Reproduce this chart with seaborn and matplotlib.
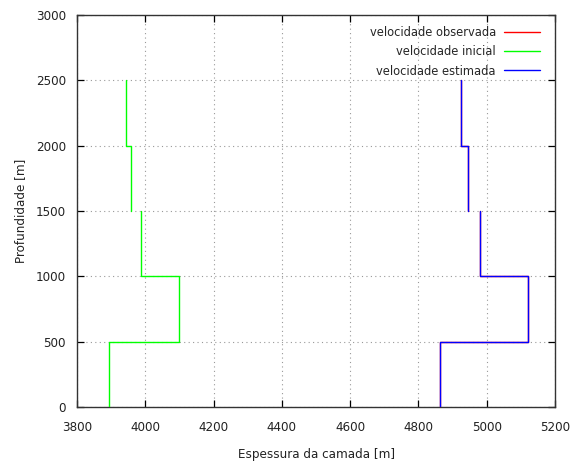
import matplotlib
matplotlib.use("Agg")
import matplotlib.pyplot as plt
import seaborn as sns

# Layer boundaries (depth, m) and velocity per layer
depths = [0, 500, 1000, 1500, 2000, 2500]
v_observada = [4864, 5122, 4980, 4944, 4926]
v_inicial = [3893, 4100, 3986, 3958, 3943]
v_estimada = [4862, 5122, 4980, 4944, 4926]

# Consecutive layers joined into one step path (the profile is split at 1500 m)
layer_groups = [[0, 1, 2], [3, 4]]

x_ticks = [3800, 4000, 4200, 4400, 4600, 4800, 5000, 5200]
y_ticks = [0, 500, 1000, 1500, 2000, 2500, 3000]

series = [
    ("velocidade observada", v_observada, "#ff0000"),
    ("velocidade inicial", v_inicial, "#00ff00"),
    ("velocidade estimada", v_estimada, "#0000ff"),
]

sns.set_style("white")
plt.rcParams["font.family"] = ["DejaVu Sans"]
plt.rcParams["font.stretch"] = "condensed"
plt.rcParams["font.size"] = 9

fig = plt.figure(figsize=(5.74, 4.63), dpi=100)
ax = fig.add_axes([77 / 574, 1 - 407 / 463, (555 - 77) / 574, (407 - 15) / 463])


def step_path(values, layers):
    xs, ys = [], []
    for i in layers:
        xs += [values[i], values[i]]
        ys += [depths[i], depths[i + 1]]
    return xs, ys


for name, values, color in series:
    for k, grp in enumerate(layer_groups):
        xs, ys = step_path(values, grp)
        sns.lineplot(x=xs, y=ys, sort=False, estimator=None, color=color,
                     lw=1.0, label=name if k == 0 else None, ax=ax, zorder=3)

ax.set_xlim(3800, 5200)
ax.set_ylim(0, 3000)
ax.set_xticks(x_ticks)
ax.set_yticks(y_ticks)
ax.grid(True, linestyle=(0, (1, 3)), color="#999999", lw=0.8)
ax.set_axisbelow(True)
ax.tick_params(direction="in", length=5, width=0.9, top=True, right=True,
               bottom=True, left=True, colors="black", labelcolor="#222222",
               labelsize=9.5)
ax.tick_params(axis="x", pad=10)
ax.tick_params(axis="y", pad=8)
for s in ax.spines.values():
    s.set_color("#333333")
    s.set_linewidth(1.0)

ax.set_xlabel("Espessura da camada [m]", fontsize=9.5, color="#222222", labelpad=10)
ax.set_ylabel("Profundidade [m]", fontsize=9.5, color="#222222", labelpad=6)

ax.legend(loc="upper right", bbox_to_anchor=(540 / 574, 1 - 26 / 463),
          bbox_transform=fig.transFigure, frameon=False, markerfirst=False,
          borderpad=0, borderaxespad=0, handlelength=2.8, handletextpad=0.65,
          labelspacing=0.5, fontsize=9.2)

fig.savefig("out.png", dpi=100)
